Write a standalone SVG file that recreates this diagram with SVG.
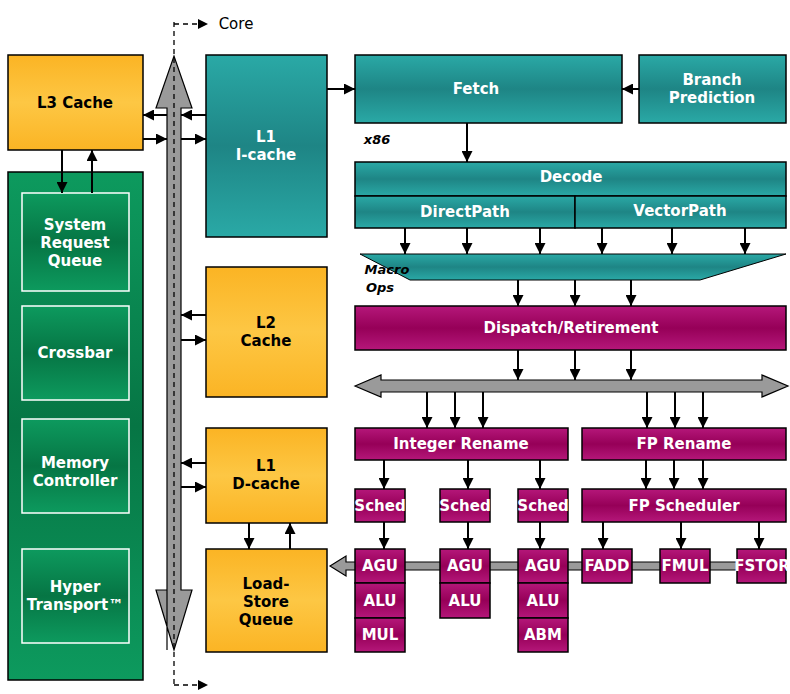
<svg xmlns="http://www.w3.org/2000/svg" width="790" height="694" viewBox="0 0 790 694">
<defs>
<linearGradient id="gO" x1="0" y1="0" x2="0" y2="1"><stop offset="0" stop-color="#fbb424"/><stop offset="0.5" stop-color="#fdc744"/><stop offset="1" stop-color="#fbb424"/></linearGradient>
<linearGradient id="gT" x1="0" y1="0" x2="0" y2="1"><stop offset="0" stop-color="#2aa9a6"/><stop offset="0.5" stop-color="#1e8585"/><stop offset="1" stop-color="#2aa9a6"/></linearGradient>
<linearGradient id="gM" x1="0" y1="0" x2="0" y2="1"><stop offset="0" stop-color="#b5177a"/><stop offset="0.5" stop-color="#960058"/><stop offset="1" stop-color="#b5177a"/></linearGradient>
<linearGradient id="gG" x1="0" y1="0" x2="0" y2="1"><stop offset="0" stop-color="#0d9a5e"/><stop offset="0.5" stop-color="#067544"/><stop offset="1" stop-color="#0d9a5e"/></linearGradient>
<marker id="ah" viewBox="0 0 10 10" refX="10" refY="5" markerWidth="11" markerHeight="11" markerUnits="userSpaceOnUse" orient="auto"><path d="M0,0L10,5L0,10z" fill="#000"/></marker>
</defs>
<style>
.o{fill:url(#gO);stroke:#000;stroke-width:1.5}
.t{fill:url(#gT);stroke:#000;stroke-width:1.5}
.m{fill:url(#gM);stroke:#000;stroke-width:1.5}
.g{fill:url(#gG);stroke:#000;stroke-width:1.5}
.gi{fill:url(#gG);stroke:#fff;stroke-width:1.5}
text{font-family:Verdana,"DejaVu Sans",sans-serif;font-weight:bold;font-size:15px;text-anchor:middle}
.w{fill:#fff}
.k{fill:#000}
.a{stroke:#000;stroke-width:2;fill:none;marker-end:url(#ah)}
.bus{fill:#9a9a9a;stroke:#000;stroke-width:1.2}
</style>
<rect width="790" height="694" fill="#fff"/>
<g id="buses">
<path class="bus" d="M167,650L167,108L156,108L174,56L192,108L181,108L181,590L192,590L174,650L156,590L167,590Z"/>
<path d="M174,22L174,685" stroke="#000" stroke-width="1.3" stroke-dasharray="5,4" fill="none"/>
<path d="M174,24L200,24" stroke="#000" stroke-width="1.3" stroke-dasharray="5,4" fill="none"/>
<path d="M198,19L208,24L198,29z"/>
<path d="M174,685L200,685" stroke="#000" stroke-width="1.3" stroke-dasharray="5,4" fill="none"/>
<path d="M198,680L208,685L198,690z"/>
<path class="bus" d="M355,386L381,375L381,380L762,380L762,375L788,386L762,397L762,392L381,392L381,397Z"/>
<path class="bus" d="M330,566L346,556L346,562L786,562L786,570L346,570L346,576Z"/>
</g>
<text x="236" y="29" class="k" style="font-weight:normal;font-size:15px">Core</text>
<g id="L3"><rect class="o" x="8" y="55" width="135" height="95"/><text x="75" y="108" class="k">L3 Cache</text></g>
<g id="panel"><rect class="g" x="8" y="172" width="135" height="508"/></g>
<g id="srq"><rect class="gi" x="22" y="193" width="107" height="98"/><text x="75" y="230" class="w">System</text><text x="75" y="248" class="w">Request</text><text x="75" y="266" class="w">Queue</text></g>
<g id="xbar"><rect class="gi" x="22" y="306" width="107" height="94"/><text x="75" y="358" class="w">Crossbar</text></g>
<g id="mc"><rect class="gi" x="22" y="419" width="107" height="94"/><text x="75" y="468" class="w">Memory</text><text x="75" y="486" class="w">Controller</text></g>
<g id="ht"><rect class="gi" x="22" y="549" width="107" height="94"/><text x="75" y="592" class="w">Hyper</text><text x="75" y="610" class="w">Transport™</text></g>
<g id="l1i"><rect class="t" x="206" y="55" width="121" height="182"/><text x="266" y="142" class="w">L1</text><text x="266" y="160" class="w">I-cache</text></g>
<g id="l2"><rect class="o" x="206" y="267" width="121" height="130"/><text x="266" y="328" class="k">L2</text><text x="266" y="346" class="k">Cache</text></g>
<g id="l1d"><rect class="o" x="206" y="428" width="121" height="95"/><text x="266" y="471" class="k">L1</text><text x="266" y="489" class="k">D-cache</text></g>
<g id="lsq"><rect class="o" x="206" y="549" width="121" height="103"/><text x="266" y="589" class="k">Load-</text><text x="266" y="607" class="k">Store</text><text x="266" y="625" class="k">Queue</text></g>
<g id="fetch"><rect class="t" x="355" y="55" width="267" height="68"/><text x="476" y="94" class="w">Fetch</text></g>
<g id="bp"><rect class="t" x="639" y="55" width="147" height="68"/><text x="712" y="85" class="w">Branch</text><text x="712" y="103" class="w">Prediction</text></g>
<text x="377" y="144" class="k" style="font-style:italic;font-size:13px">x86</text>
<g id="decode"><rect class="t" x="355" y="162" width="431" height="34"/><text x="571" y="182" class="w">Decode</text>
<rect class="t" x="355" y="196" width="220" height="32"/><text x="465" y="217" class="w">DirectPath</text>
<rect class="t" x="575" y="196" width="211" height="32"/><text x="680" y="216" class="w">VectorPath</text></g>
<g id="macro"><path d="M360,254L786,254L700,280L410,280Z" fill="url(#gT)" stroke="#000" stroke-width="1"/></g>
<text x="387" y="274" class="k" style="font-style:italic;font-size:13px">Macro</text>
<text x="380" y="292" class="k" style="font-style:italic;font-size:13px">Ops</text>
<g id="disp"><rect class="m" x="355" y="306" width="431" height="44"/><text x="571" y="333" class="w">Dispatch/Retirement</text></g>
<g id="ir"><rect class="m" x="355" y="428" width="213" height="32"/><text x="461" y="449" class="w">Integer Rename</text></g>
<g id="fr"><rect class="m" x="582" y="428" width="204" height="32"/><text x="684" y="449" class="w">FP Rename</text></g>
<g id="s1"><rect class="m" x="355" y="489" width="50" height="33"/><text x="380" y="511" class="w">Sched</text></g>
<g id="s2"><rect class="m" x="440" y="489" width="50" height="33"/><text x="465" y="511" class="w">Sched</text></g>
<g id="s3"><rect class="m" x="518" y="489" width="50" height="33"/><text x="543" y="511" class="w">Sched</text></g>
<g id="fs"><rect class="m" x="582" y="489" width="204" height="33"/><text x="684" y="511" class="w">FP Scheduler</text></g>
<g id="u1"><rect class="m" x="355" y="549" width="50" height="34"/><text x="380" y="571" class="w">AGU</text>
<rect class="m" x="355" y="583" width="50" height="35"/><text x="380" y="606" class="w">ALU</text>
<rect class="m" x="355" y="618" width="50" height="34"/><text x="380" y="640" class="w">MUL</text></g>
<g id="u2"><rect class="m" x="440" y="549" width="50" height="34"/><text x="465" y="571" class="w">AGU</text>
<rect class="m" x="440" y="583" width="50" height="35"/><text x="465" y="606" class="w">ALU</text></g>
<g id="u3"><rect class="m" x="518" y="549" width="50" height="34"/><text x="543" y="571" class="w">AGU</text>
<rect class="m" x="518" y="583" width="50" height="35"/><text x="543" y="606" class="w">ALU</text>
<rect class="m" x="518" y="618" width="50" height="34"/><text x="543" y="640" class="w">ABM</text></g>
<g id="fadd"><rect class="m" x="582" y="549" width="50" height="34"/><text x="607" y="571" class="w">FADD</text></g>
<g id="fmul"><rect class="m" x="660" y="549" width="50" height="34"/><text x="685" y="571" class="w">FMUL</text></g>
<g id="fstor"><rect class="m" x="737" y="549" width="49" height="34"/><text x="762" y="571" class="w">FSTOR</text></g>
<g id="connectors">
<path class="a" d="M167,115L143,115"/><path class="a" d="M143,139L167,139"/>
<path class="a" d="M206,115L181,115"/><path class="a" d="M181,139L206,139"/>
<path class="a" d="M206,315L181,315"/><path class="a" d="M181,340L206,340"/>
<path class="a" d="M206,463L181,463"/><path class="a" d="M181,487L206,487"/>
<path class="a" d="M62,150L62,193"/><path class="a" d="M92,193L92,150"/>
<path class="a" d="M249,523L249,549"/><path class="a" d="M290,549L290,523"/>
<path class="a" d="M327,89L355,89"/><path class="a" d="M639,89L622,89"/>
<path class="a" d="M467,123L467,162"/>
<path class="a" d="M405,228L405,254"/><path class="a" d="M467,228L467,254"/><path class="a" d="M540,228L540,254"/><path class="a" d="M602,228L602,254"/><path class="a" d="M672,228L672,254"/><path class="a" d="M745,228L745,254"/>
<path class="a" d="M518,280L518,306"/><path class="a" d="M575,280L575,306"/><path class="a" d="M631,280L631,306"/>
<path class="a" d="M518,350L518,380"/><path class="a" d="M575,350L575,380"/><path class="a" d="M631,350L631,380"/>
<path class="a" d="M427,392L427,428"/><path class="a" d="M455,392L455,428"/><path class="a" d="M483,392L483,428"/>
<path class="a" d="M647,392L647,428"/><path class="a" d="M675,392L675,428"/><path class="a" d="M703,392L703,428"/>
<path class="a" d="M384,460L384,489"/><path class="a" d="M468,460L468,489"/><path class="a" d="M540,460L540,489"/>
<path class="a" d="M646,460L646,489"/><path class="a" d="M674,460L674,489"/><path class="a" d="M703,460L703,489"/>
<path class="a" d="M384,522L384,549"/><path class="a" d="M468,522L468,549"/><path class="a" d="M540,522L540,549"/>
<path class="a" d="M603,522L603,549"/><path class="a" d="M681,522L681,549"/><path class="a" d="M759,522L759,549"/>
</g>
</svg>
